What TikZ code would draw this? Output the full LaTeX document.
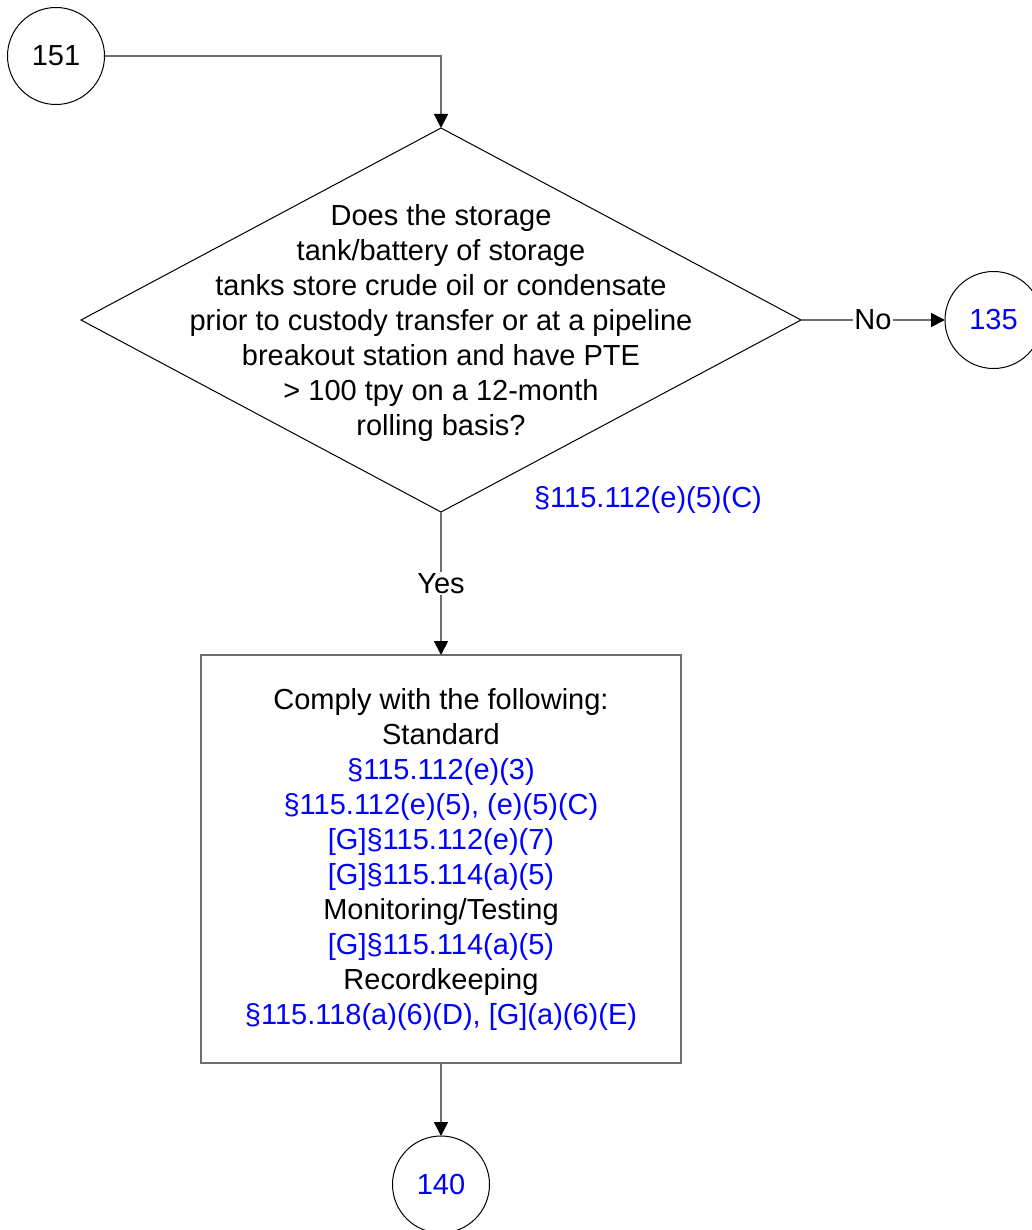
\documentclass[tikz,border=0pt]{standalone}
\usepackage{fontspec}
\setmainfont{Liberation Sans}
\usepackage{xcolor}
\usepackage{tikz}
\usetikzlibrary{positioning,arrows.meta,shapes.geometric}
\definecolor{refblue}{HTML}{0000FF}
\definecolor{wire}{HTML}{6E6E6E}
\newcommand{\regref}[1]{\textcolor{refblue}{#1}}

\begin{document}
\begin{tikzpicture}[
  x=1pt,y=1pt,
  font=\fontsize{14.5}{17.5}\selectfont,
  conn/.style={draw=black,line width=0.5pt,circle,minimum size=48.5pt,inner sep=0pt,outer sep=0pt},
  dec/.style={draw=black,line width=0.5pt,diamond,minimum width=360pt,minimum height=192pt,inner sep=0pt,outer sep=0pt},
  act/.style={draw=wire,line width=0.8pt,minimum width=240pt,minimum height=204pt,align=center,inner sep=0pt,outer sep=0pt},
  lbl/.style={fill=white,text=black,inner sep=0.8pt},
  arr/.style={-{Triangle[length=7pt,width=7pt,color=black]},line width=0.8pt,wire}
]
\useasboundingbox (0,0) rectangle (516,-615);
\node[conn] (n151) at (28,-28) {151};
\node[dec] (dq) at (220.5,-160) {};
\node[align=center,yshift=-1.5pt] (dqtext) at (dq.center) {Does the storage\\tank/battery of storage\\tanks store crude oil or condensate\\prior to custody transfer or at a pipeline\\breakout station and have PTE\\> 100 tpy on a 12-month\\rolling basis?};
\node[conn,right=72pt of dq] (n135) {\regref{135}};
\node[text=refblue] (cite) at (324,-250) {§115.112(e)(5)(C)};
\node[act,below=71.5pt of dq] (comply) {Comply with the following:\\Standard\\\regref{§115.112(e)(3)}\\\regref{§115.112(e)(5), (e)(5)(C)}\\\regref{[G]§115.112(e)(7)}\\\regref{[G]§115.114(a)(5)}\\Monitoring/Testing\\\regref{[G]§115.114(a)(5)}\\Recordkeeping\\\regref{§115.118(a)(6)(D), [G](a)(6)(E)}};
\node[conn,below=36.5pt of comply] (n140) {\regref{140}};
\draw[arr] (n151) -| (dq);
\draw[arr] (dq) -- node[lbl]{No} (n135);
\draw[arr] (dq) -- node[lbl]{Yes} (comply);
\draw[arr] (comply) -- (n140);
\end{tikzpicture}
\end{document}
